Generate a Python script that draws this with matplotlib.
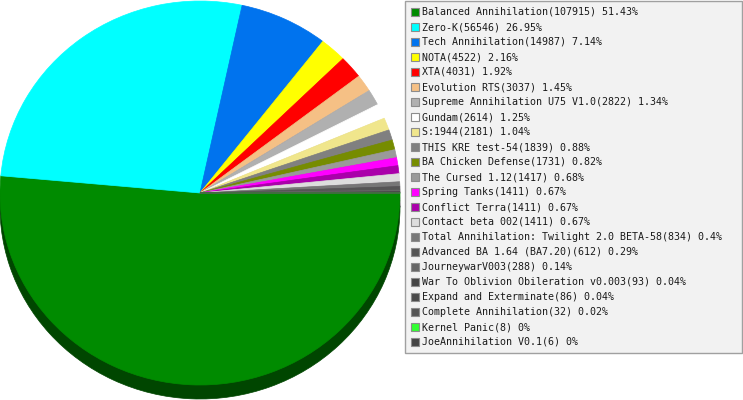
import matplotlib
matplotlib.use("Agg")
import matplotlib.pyplot as plt
from matplotlib.patches import Rectangle
from matplotlib.colors import to_rgb

names = ["Balanced Annihilation", "Zero-K", "Tech Annihilation", "NOTA", "XTA",
         "Evolution RTS", "Supreme Annihilation U75 V1.0", "Gundam", "S:1944",
         "THIS KRE test-54", "BA Chicken Defense", "The Cursed 1.12", "Spring Tanks",
         "Conflict Terra", "Contact beta 002", "Total Annihilation: Twilight 2.0 BETA-58",
         "Advanced BA 1.64 (BA7.20)", "JourneywarV003", "War To Oblivion Obileration v0.003",
         "Expand and Exterminate", "Complete Annihilation", "Kernel Panic", "JoeAnnihilation V0.1"]
counts = [107915, 56546, 14987, 4522, 4031, 3037, 2822, 2614, 2181, 1839, 1731, 1417,
          1411, 1411, 1411, 834, 612, 288, 93, 86, 32, 8, 6]
colors = ["#008b00", "#00ffff", "#0073ee", "#ffff00", "#ff0000", "#f5c085", "#b0b0b0",
          "#ffffff", "#f0e68c", "#808080", "#768c00", "#9a9a9a", "#ff00ff", "#aa00aa",
          "#dddddd", "#777777", "#555555", "#666666", "#444444", "#4a4a4a", "#555555",
          "#33ff33", "#444444"]

W, H = 743, 400
fig = plt.figure(figsize=(W / 100, H / 100), dpi=100)

# pie geometry in pixels
cx, cy, rx, ry, depth = 200, 193, 200, 192, 14

def pie_axes(dy):
    left = (cx - rx) / W
    bottom = (H - (cy + ry + dy)) / H
    ax = fig.add_axes([left, bottom, 2 * rx / W, 2 * ry / H])
    return ax

dark = [tuple(c * 0.5 for c in to_rgb(col)) for col in colors]

for dy, cols in ((depth, dark), (0, colors)):
    ax = pie_axes(dy)
    wedges, _ = ax.pie(counts, colors=cols, startangle=0, counterclock=False, radius=1,
                       wedgeprops=dict(linewidth=0.5))
    for w in wedges:
        w.set_edgecolor(w.get_facecolor())
    ax.set_aspect("auto")
    ax.set_xlim(-1, 1)
    ax.set_ylim(-1, 1)
    ax.axis("off")

# legend in pixel coordinates
ax_l = fig.add_axes([0, 0, 1, 1], facecolor="none")
ax_l.set_xlim(0, W)
ax_l.set_ylim(H, 0)
ax_l.axis("off")
ax_l.add_patch(Rectangle((405, 0.5), 337, 352.5, facecolor="#f2f2f2",
                         edgecolor="#a0a0a0", linewidth=1))
total = sum(counts)
for i, (n, c, col) in enumerate(zip(names, counts, colors)):
    y = 12 + 15 * i
    pct = round(c / total * 100, 2)
    ax_l.add_patch(Rectangle((410.5, y - 4.5), 8, 8, facecolor=col,
                             edgecolor="#8c8c8c", linewidth=0.8))
    ax_l.text(422, y, f"{n}({c}) {pct:g}%", fontsize=7.2, family="DejaVu Sans Mono",
              color="#1a1a1a", va="center", ha="left")

fig.savefig("out.png", dpi=100)
